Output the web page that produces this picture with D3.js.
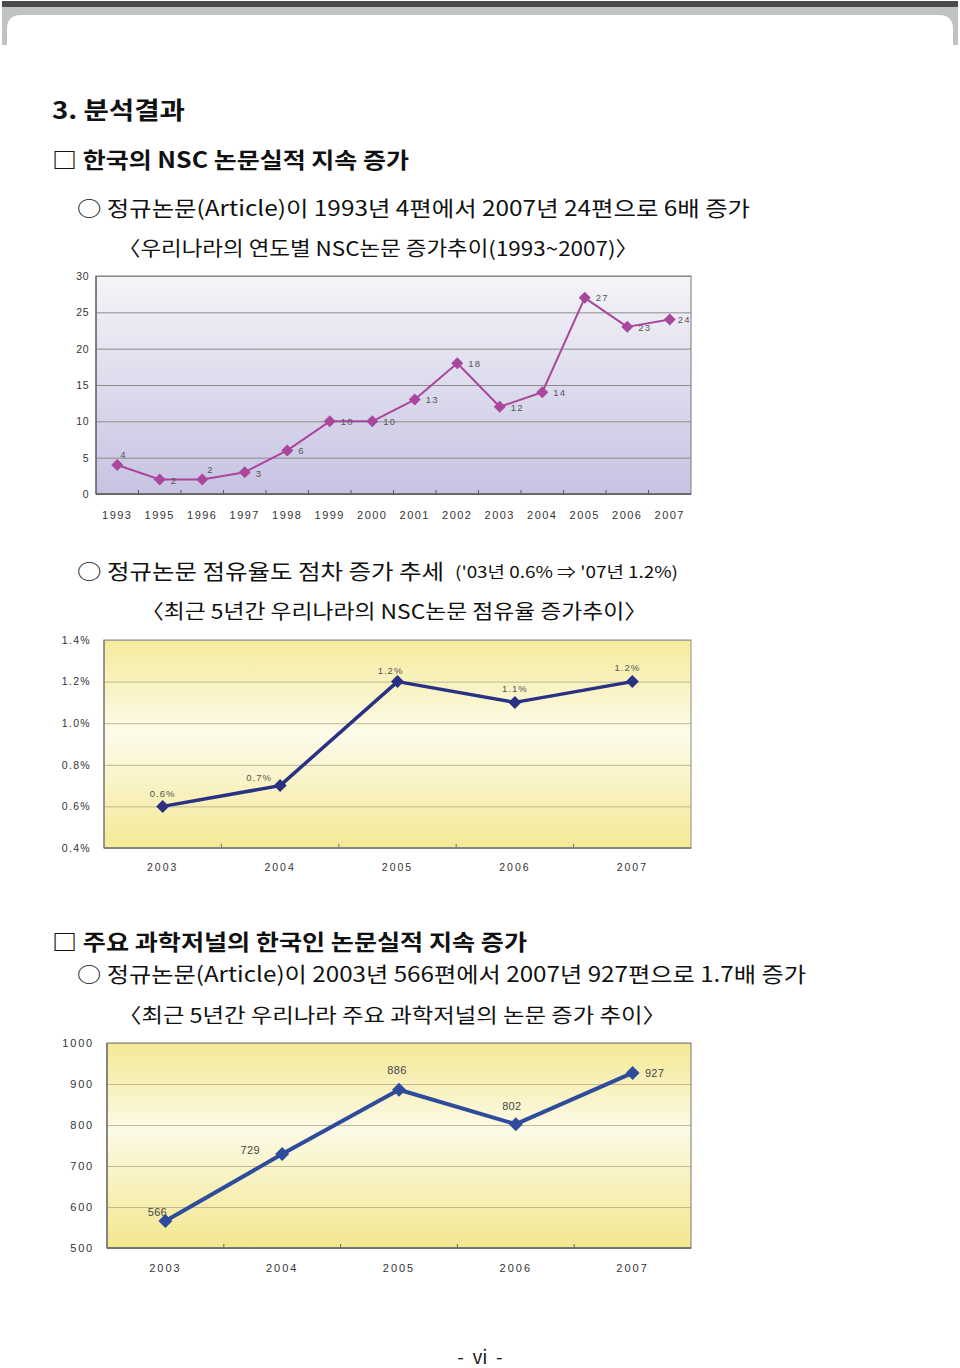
<!DOCTYPE html>
<html>
<head>
<meta charset="utf-8">
<script src="https://cdn.jsdelivr.net/npm/d3@7"></script>
<style>
  body { margin: 0; background: #fff; }
  svg { display: block; }
</style>
</head>
<body>
<div id="page"></div>
<script>
"use strict";

// chart 1: NSC papers per year
const nscYears = ["1993", "1995", "1996", "1997", "1998", "1999", "2000", "2001", "2002", "2003", "2004", "2005", "2006", "2007"];
const nscCounts = [4, 2, 2, 3, 6, 10, 10, 13, 18, 12, 14, 27, 23, 24];
const nscTicks = [0, 5, 10, 15, 20, 25, 30];

// chart 2: NSC share (%)
const shareYears = ["2003", "2004", "2005", "2006", "2007"];
const shareValues = [0.6, 0.7, 1.2, 1.1, 1.2];
const shareTicks = [0.4, 0.6, 0.8, 1.0, 1.2, 1.4];

// chart 3: papers in major journals
const journalYears = ["2003", "2004", "2005", "2006", "2007"];
const journalCounts = [566, 729, 886, 802, 927];
const journalTicks = [500, 600, 700, 800, 900, 1000];

const W = 960, H = 1368;
const KR = "'Noto Sans CJK KR', 'Noto Sans', sans-serif";
const LAT = "'Liberation Sans', Arial, sans-serif";

let svg = d3.select("#page").append("svg")
    .attr("width", W)
    .attr("height", H);
let defs = svg.append("defs");

drawHeader();
drawTexts();

drawLineChart({
    id: "nsc", left: 96, top: 276, right: 691, bottom: 494,
    cats: nscYears, values: nscCounts, ticks: nscTicks, domain: [0, 30],
    fmt: d => d,
    grad: [["0%", "#f4f4f8"], ["100%", "#c6c3e2"]],
    grid: "#8c8c8c", border: "#8a8a8a", axisCol: "#5a5a5a",
    line: "#a9479d", lineW: 2, marker: 6,
    yLabelX: 89, yFont: 10.5, ySpacing: 0.5,
    xLabelY: 519, xFont: 11, xSpacing: 1.5,
    lblFont: 9.5, lblSpacing: 1.2, lblCol: "#555",
    lblFmt: d => d,
    // label nudges (dx, dy from point, text start anchored)
    lblAnchor: "start",
    lblOff: [[3, -10], [11, 1], [5, -10], [11, 1], [11, 0], [11, 0], [11, 0], [11, 0], [11, 0], [11, 1], [11, 0], [11, 0], [11, 1], [8, 0]]
});

drawLineChart({
    id: "share", left: 104, top: 640, right: 691, bottom: 848,
    cats: shareYears, values: shareValues, ticks: shareTicks, domain: [0.4, 1.4],
    fmt: d => d3.format(".1f")(d) + "%",
    grad: [["0%", "#f5eb9b"], ["45%", "#fdfbea"], ["100%", "#f4e996"]],
    grid: "#bdb78f", border: "#a19f8c", axisCol: "#777",
    line: "#2a3184", lineW: 3.5, marker: 6.5,
    yLabelX: 91, yFont: 10.5, ySpacing: 1.3,
    xLabelY: 872, xFont: 10.5, xSpacing: 2,
    lblFont: 9.5, lblSpacing: 1, lblCol: "#555",
    lblFmt: d => d3.format(".1f")(d) + "%",
    lblAnchor: "middle",
    lblOff: [[0, -13], [-21, -8], [-7, -11], [0, -14], [-5, -14]]
});

drawLineChart({
    id: "journal", left: 107, top: 1043, right: 691, bottom: 1248,
    cats: journalYears, values: journalCounts, ticks: journalTicks, domain: [500, 1000],
    fmt: d => d,
    grad: [["0%", "#f4e995"], ["42%", "#fcfae6"], ["100%", "#f3e78f"]],
    grid: "#c1bb92", border: "#8f8c7c", axisCol: "#666",
    line: "#2f4c9c", lineW: 4, marker: 7,
    yLabelX: 94, yFont: 11, ySpacing: 1.8,
    xLabelY: 1272, xFont: 11, xSpacing: 2,
    lblFont: 11, lblSpacing: 0.3, lblCol: "#444",
    lblFmt: d => d,
    lblAnchor: "middle",
    lblOff: [[-8, -9], [-32, -4], [-2, -20], [-4, -18], [22, 0]]
});

function drawHeader() {
    svg.append("rect")
        .attr("x", 2).attr("y", 1)
        .attr("width", 956).attr("height", 6)
        .attr("fill", "#4b4b4b");
    // grey frame with rounded inner corners
    let outer = "M2,7 H958 V45 H2 Z";
    let r = 14;
    let inner = "M7," + (15 + r) + " Q7,15 " + (7 + r) + ",15 H" + (953 - r) +
        " Q953,15 953," + (15 + r) + " V60 H7 Z";
    svg.append("path")
        .attr("d", outer + " " + inner)
        .attr("fill", "#c0c4c1")
        .attr("fill-rule", "evenodd");
    svg.append("rect").attr("x", 0).attr("y", 45).attr("width", W).attr("height", 20).attr("fill", "#fff");
}

function drawTexts() {
    let lines = [
        { t: "3. 분석결과", x: 52, y: 110, size: 24, w: 700, len: 133 },
        { t: "□ 한국의 NSC 논문실적 지속 증가", x: 52, y: 160, size: 22, w: 700, len: 357 },
        { t: "○ 정규논문(Article)이 1993년 4편에서 2007년 24편으로 6배 증가", x: 77, y: 208, size: 21, w: 400, len: 673 },
        { t: "〈우리나라의 연도별 NSC논문 증가추이(1993~2007)〉", x: 118, y: 249, size: 20, w: 400, len: 520 },
        { t: "○ 정규논문 점유율도 점차 증가 추세", x: 77, y: 571, size: 21, w: 400, len: 367 },
        { t: "('03년 0.6% ⇒ '07년 1.2%)", x: 455, y: 572, size: 16, w: 400, len: 223 },
        { t: "〈최근 5년간 우리나라의 NSC논문 점유율 증가추이〉", x: 141, y: 612, size: 20, w: 400, len: 506 },
        { t: "□ 주요 과학저널의 한국인 논문실적 지속 증가", x: 52, y: 942, size: 22, w: 700, len: 475 },
        { t: "○ 정규논문(Article)이 2003년 566편에서 2007년 927편으로 1.7배 증가", x: 77, y: 974, size: 21, w: 400, len: 729 },
        { t: "〈최근 5년간 우리나라 주요 과학저널의 논문 증가 추이〉", x: 118, y: 1016, size: 20, w: 400, len: 548 }
    ];
    svg.selectAll(".line-text")
        .data(lines)
        .enter()
        .append("text")
        .attr("class", "line-text")
        .attr("x", d => d.x)
        .attr("y", d => d.y)
        .attr("dy", "0.36em")
        .attr("textLength", d => d.len)
        .attr("lengthAdjust", "spacingAndGlyphs")
        .style("font-family", KR)
        .style("font-size", d => d.size + "px")
        .style("font-weight", d => d.w)
        .style("fill", "#111")
        .text(d => d.t);

    svg.append("text")
        .attr("x", 480).attr("y", 1357)
        .attr("dy", "0.36em")
        .attr("text-anchor", "middle")
        .style("font-family", KR)
        .style("font-size", "19px")
        .style("white-space", "pre")
        .style("fill", "#222")
        .text("-  vi  -");
}

function drawLineChart(c) {
    let g = svg.append("g").attr("class", "chart-" + c.id);
    let pw = c.right - c.left, ph = c.bottom - c.top;

    let grad = defs.append("linearGradient")
        .attr("id", "bg-" + c.id)
        .attr("x1", 0).attr("y1", 0).attr("x2", 0).attr("y2", 1);
    c.grad.forEach(s => grad.append("stop").attr("offset", s[0]).attr("stop-color", s[1]));

    let x = d3.scaleBand().domain(c.cats).range([c.left, c.right]).padding(0);
    let y = d3.scaleLinear().domain(c.domain).range([c.bottom, c.top]);
    let xc = d => x(d) + x.bandwidth() / 2;

    g.append("rect")
        .attr("x", c.left).attr("y", c.top)
        .attr("width", pw).attr("height", ph)
        .attr("fill", "url(#bg-" + c.id + ")");

    // gridlines
    let grid = g.append("g")
        .attr("transform", "translate(" + c.left + ",0)")
        .call(d3.axisLeft(y).tickValues(c.ticks).tickSize(-pw).tickFormat(""));
    grid.select(".domain").remove();
    grid.selectAll("line").attr("stroke", c.grid).attr("stroke-width", 1);

    // frame
    g.append("rect")
        .attr("x", c.left).attr("y", c.top)
        .attr("width", pw).attr("height", ph)
        .attr("fill", "none")
        .attr("stroke", c.border)
        .attr("stroke-width", 1.2);
    g.append("line")
        .attr("x1", c.left).attr("x2", c.right)
        .attr("y1", c.bottom).attr("y2", c.bottom)
        .attr("stroke", c.axisCol).attr("stroke-width", 1.5);
    g.append("line")
        .attr("x1", c.left).attr("x2", c.left)
        .attr("y1", c.top).attr("y2", c.bottom)
        .attr("stroke", c.axisCol).attr("stroke-width", 1.2);

    // small ticks at band boundaries, inside the plot
    g.selectAll(".btick")
        .data(c.cats.slice(1))
        .enter()
        .append("line")
        .attr("x1", d => x(d)).attr("x2", d => x(d))
        .attr("y1", c.bottom).attr("y2", c.bottom - 4)
        .attr("stroke", c.axisCol).attr("stroke-width", 1);

    // y labels
    let yAx = g.append("g")
        .attr("transform", "translate(" + c.yLabelX + ",0)")
        .call(d3.axisLeft(y).tickValues(c.ticks).tickSize(0).tickPadding(0).tickFormat(c.fmt));
    yAx.select(".domain").remove();
    yAx.selectAll("text")
        .attr("x", 0)
        .style("font-family", LAT)
        .style("font-size", c.yFont + "px")
        .style("letter-spacing", c.ySpacing + "px")
        .style("fill", "#333");

    // x labels
    let xAx = g.append("g")
        .attr("transform", "translate(0," + (c.xLabelY - 8) + ")")
        .call(d3.axisBottom(x).tickSize(0).tickPadding(0));
    xAx.select(".domain").remove();
    xAx.selectAll("text")
        .attr("y", 0)
        .attr("dy", "0.71em")
        .style("font-family", LAT)
        .style("font-size", c.xFont + "px")
        .style("letter-spacing", c.xSpacing + "px")
        .style("fill", "#333");

    // line
    let line = d3.line()
        .x((d, i) => xc(c.cats[i]))
        .y(d => y(d));
    g.append("path")
        .datum(c.values)
        .attr("d", line)
        .attr("fill", "none")
        .attr("stroke", c.line)
        .attr("stroke-width", c.lineW)
        .attr("stroke-linejoin", "round");

    // diamond markers
    let m = c.marker;
    g.selectAll(".mark")
        .data(c.values)
        .enter()
        .append("path")
        .attr("d", "M0," + (-m) + " L" + m + ",0 L0," + m + " L" + (-m) + ",0 Z")
        .attr("transform", (d, i) => "translate(" + xc(c.cats[i]) + "," + y(d) + ")")
        .attr("fill", c.line);

    // value labels
    g.selectAll(".vlabel")
        .data(c.values)
        .enter()
        .append("text")
        .attr("x", (d, i) => xc(c.cats[i]) + c.lblOff[i][0])
        .attr("y", (d, i) => y(d) + c.lblOff[i][1])
        .attr("dy", "0.35em")
        .attr("text-anchor", c.lblAnchor)
        .style("font-family", LAT)
        .style("font-size", c.lblFont + "px")
        .style("letter-spacing", c.lblSpacing + "px")
        .style("fill", c.lblCol)
        .text(c.lblFmt);
}
</script>
</body>
</html>
